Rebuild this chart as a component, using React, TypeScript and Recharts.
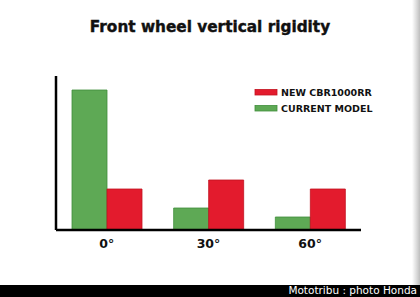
import React from 'react';
import { BarChart, Bar, XAxis, YAxis } from 'recharts';

const categories = ['0°', '30°', '60°'];
const currentModel = [140, 22, 13];
const newCbr = [41, 50, 41];
const title = 'Front wheel vertical rigidity';
const legendNew = 'NEW CBR1000RR';
const legendCurrent = 'CURRENT MODEL';
const credit = 'Mototribu : photo Honda';

const data = categories.map((c, i) => ({ cat: c, current: currentModel[i], nw: newCbr[i] }));

const GREEN = '#5ea955';
const GREEN_DARK = '#3f8e3b';
const RED = '#e31b2d';
const RED_DARK = '#c2121f';
const HEAVY = '"DejaVu Sans", "Liberation Sans", sans-serif';

export default function App() {
  return (
    <div style={{ position: 'absolute', left: 0, top: 0, width: 420, height: 297, background: '#fff', overflow: 'hidden', fontFamily: HEAVY }}>
      <div style={{ position: 'absolute', left: 0, top: 18, width: 420, textAlign: 'center', fontSize: 15.3, fontWeight: 700, color: '#111', WebkitTextStroke: '0.4px #111' }}>{title}</div>
      <div style={{ position: 'absolute', right: 0, top: 0, width: 8, height: 285, background: 'linear-gradient(to right, #ffffff, #d9d9d9 60%, #bdbdbd)' }} />
      <div style={{ position: 'absolute', left: 0, top: 0 }}>
        <BarChart width={420} height={297} data={data} margin={{ top: 76, right: 59, left: 55, bottom: 37 }} barCategoryGap={16} barGap={0}>
          <XAxis dataKey="cat" height={30} axisLine={{ stroke: '#000', strokeWidth: 2.5 }} tickLine={false} tickMargin={3} tick={{ fill: '#111', fontSize: 12.5, fontWeight: 700, fontFamily: HEAVY }} />
          <YAxis width={1} domain={[0, 154]} axisLine={{ stroke: '#000', strokeWidth: 2.5 }} tick={false} tickLine={false} allowDataOverflow />
          <Bar dataKey="current" fill={GREEN} stroke={GREEN_DARK} strokeWidth={0.8} isAnimationActive={false} />
          <Bar dataKey="nw" fill={RED} stroke={RED_DARK} strokeWidth={0.8} isAnimationActive={false} />
        </BarChart>
      </div>
      <svg style={{ position: 'absolute', left: 0, top: 0 }} width={420} height={297}>
        <rect x={255} y={89.5} width={22} height={5.5} fill={RED} stroke={RED_DARK} strokeWidth={0.8} />
        <text x={281} y={96} fontSize={9.5} fontWeight={700} fill="#111" fontFamily={HEAVY}>{legendNew}</text>
        <rect x={255} y={105.5} width={22} height={5.5} fill={GREEN} stroke={GREEN_DARK} strokeWidth={0.8} />
        <text x={281} y={112} fontSize={9.5} fontWeight={700} fill="#111" fontFamily={HEAVY}>{legendCurrent}</text>
      </svg>
      <div style={{ position: 'absolute', left: 0, top: 285, width: 420, height: 12, background: '#000' }} />
      <div style={{ position: 'absolute', right: 3, top: 284, color: '#fff', fontSize: 10.5, fontFamily: HEAVY, lineHeight: '13px' }}>{credit}</div>
    </div>
  );
}
